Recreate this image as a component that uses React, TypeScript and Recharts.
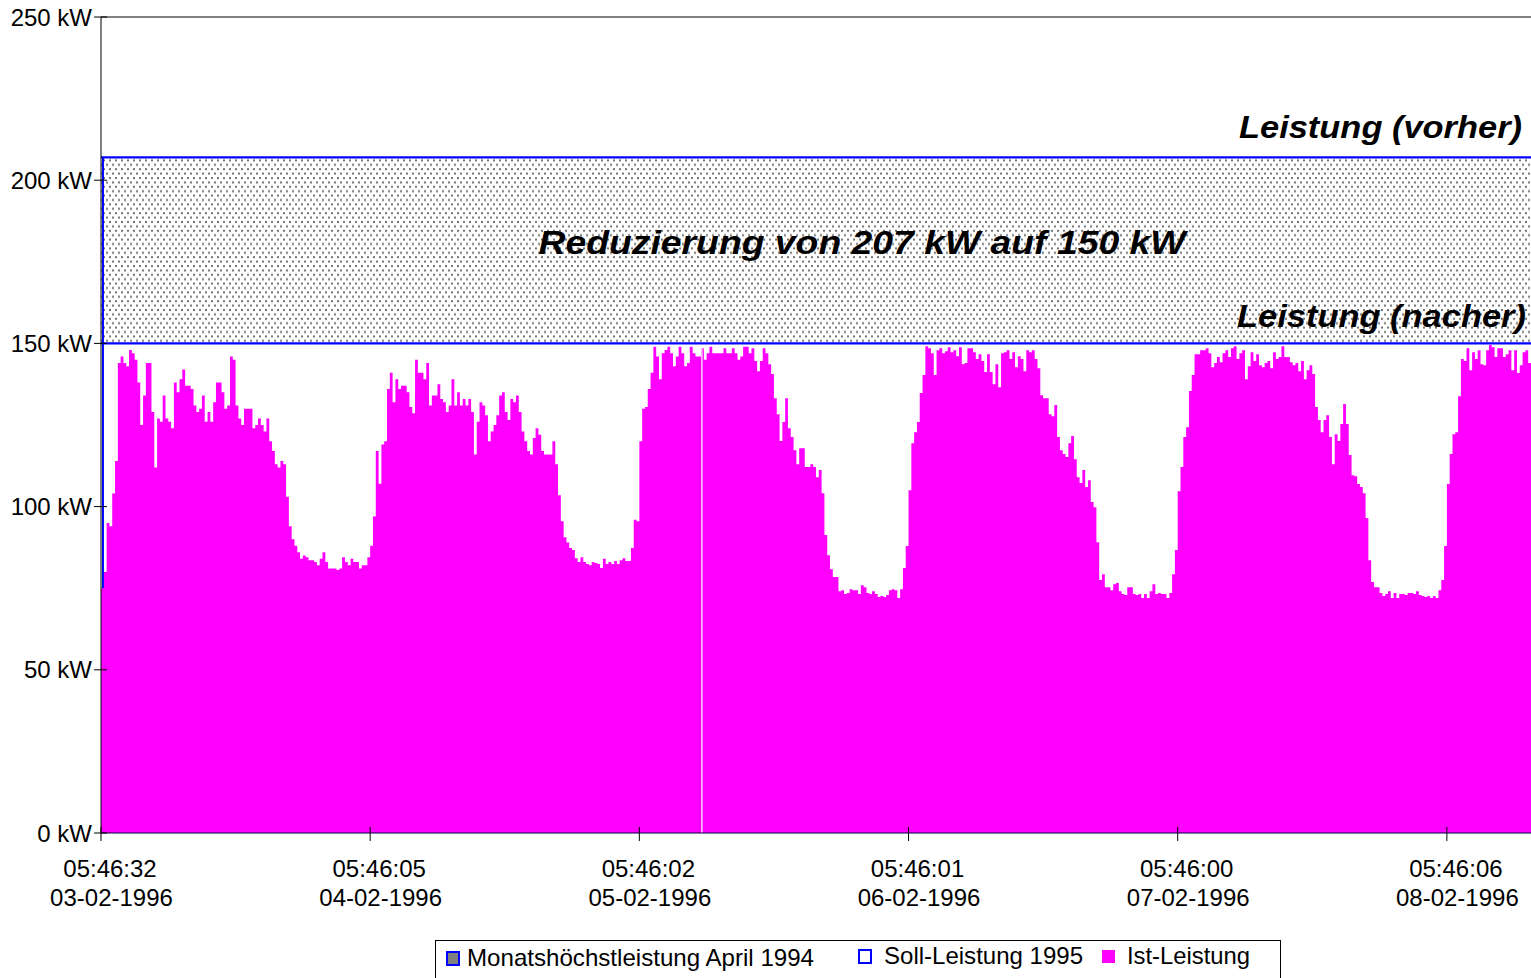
import { ComposedChart, Area, XAxis, YAxis, ReferenceLine } from "recharts"

const FONT = "'Liberation Sans', Arial, Helvetica, sans-serif"
const BLUE = "#0000ff"
const MAGENTA = "#ff00ff"

// 15-minute load readings (kW), one array per day starting 05:46
const DAY_1 = [
  75, 80, 95, 94, 104, 114, 144, 146, 144, 143, 148, 147, 145, 138, 125, 134, 144, 144, 129, 112,
  127, 126, 134, 127, 126, 124, 138, 135, 139, 142, 137, 137, 136, 131, 129, 130, 134, 126, 129, 126,
  132, 138, 138, 135, 130, 131, 146, 145, 131, 127, 125, 130, 130, 130, 124, 125, 127, 125, 123, 127,
  120, 117, 113, 112, 114, 113, 103, 94, 90, 88, 86, 84, 85, 84.5, 83.6, 83.6, 83, 82, 84, 86,
  83, 81, 81, 81, 80.6, 81, 84.5, 83, 82, 84, 83, 83, 81, 82, 82, 84.5,
]
const DAY_2 = [
  88, 97, 117, 107, 119, 120, 136, 141, 132, 139, 136, 137, 137, 135, 130.5, 128.6, 145, 141, 141, 139,
  144, 131, 134, 134, 137.5, 133, 132, 129, 131, 139, 131, 135, 131, 133, 131, 133, 129, 116, 126, 132,
  131, 128, 120, 123, 125, 128, 134, 135, 129, 126.5, 133, 132, 134, 129, 123, 120, 117, 116,
  121, 124, 122, 117, 116, 116, 116, 120, 113, 103.5, 95.5, 90.6, 89, 87.3, 86.7, 84.2, 83, 84.5, 83, 82.4,
  82, 83, 82.7, 82.4, 81.2, 84, 82.4, 83, 82.4, 83.3, 82.4, 83.6, 84.2, 83.3, 83.3, 87.3, 96, 95.5,
]
const DAY_3 = [
  120, 130, 130.5, 136, 141, 149, 146, 139, 147, 148, 149, 147, 143, 146, 149, 147, 143, 144, 149, 147,
  146, 146, 148.5, 145, 147, 149, 147, 147, 147, 147, 148.5, 147, 147, 148.5, 147, 145, 146, 149, 149, 147,
  148.5, 144.6, 141.5, 144.6, 148.5, 147, 143.6,
  140.6, 133.2, 128.3, 120.1, 125.9, 133.2, 124, 121.3, 117.3, 113, 117.9, 117.9, 112.1, 112.1, 113, 112.1,
  109, 111.2, 104.1, 91.3, 85.1, 80.8, 78.4, 78.4, 74.1, 74.4, 73.2, 73.5, 74.7, 74.4, 74.4, 73.2, 75.9,
  75.3, 73.5, 73.2, 74.1, 73.2, 72.3, 72.6, 72.3, 72.9, 74.4, 74.7, 74.4, 72, 74.7, 81.2, 87.9,
]
const DAY_4 = [
  105, 119.4, 122.8, 125.9, 134.8, 140.3, 149.1, 148.5, 147, 140.3, 147.9, 148.5, 147, 147.6, 148.8, 147.3,
  147.9, 146.1, 148.8, 143.6, 144, 148.5, 148.5, 147.3, 145.2, 146.7, 144.6, 141.2, 146.7, 141.2, 137.5,
  143.6, 136.6, 147, 147.3, 147.9,
  145.2, 147.3, 142.7, 146.1, 145.2, 141.5, 147.9, 147.3, 147.9, 145.2, 142.4, 134.1, 133.2, 133.2, 128.3,
  127.7, 131.1, 121.3, 117.3, 116.1, 115.2, 119.4, 121.6, 114.5, 109, 107.2, 111.2, 106, 108.1, 101.4,
  99.8, 89.1, 77.5, 79.3, 75.3, 75.3, 74.4, 76.2, 76.6, 74.1, 73.2, 72.9, 75.3, 75.3, 73.2, 72.9, 73.2, 72,
  73.2, 72, 74.1, 76.2, 73.2, 73.5, 73.2, 73.2, 72, 73.5, 79.3, 86.7,
]
const DAY_5 = [
  104.7, 112.1, 121.3, 124.3, 135.4, 140.3, 146.7, 146.7, 147.9, 147.9, 148.5, 147, 142.7, 144, 145.8,
  144.2, 147, 147.9, 145.8, 148.5, 149.1, 145.2, 147, 147.9, 139, 143, 147.3,
  144.6, 146.7, 143.3, 142.7, 144, 144.6, 142.4, 147.3, 145.2, 145.8, 149.1, 145.8, 145.8, 144.2, 143.3,
  144, 141.5, 144.6, 139, 141.8, 143.3, 140.6, 130.5, 126.5, 122.8, 126.5, 128, 121.3, 113, 122.2, 120.1,
  125.3, 131.4, 125.3, 115.8, 109.6, 109.3, 106.9, 106, 104.1, 96.5, 83.6, 76.9, 75.3, 75.3, 73.5, 72.6,
  73.2, 74.1, 72, 73.5, 72, 73.2, 73.2, 72.9, 73.5, 73.5, 73.2, 74.1, 72.9, 72.6, 72.3, 72.6, 72, 72.6, 72,
  74.4, 77.5, 87.9,
]
const DAY_6 = [
  106.9, 116.1, 122.2, 122.8, 133.8, 145.2, 144.6, 148.5, 141.8, 147.3, 145.2, 147.9, 143.6, 143.3, 147.9,
  149.5, 148.8, 145.8, 148.5, 148.5, 145.8, 146.7, 147.9, 141.8, 147.9, 140.9, 143.3, 147.3, 147.9, 144,
]

const IST_LEISTUNG = [...DAY_1, ...DAY_2, ...DAY_3, ...DAY_4, ...DAY_5, ...DAY_6]
const MONATSHOECHST = 207
const SOLL_LEISTUNG = 150

const Y_TICKS = [0, 50, 100, 150, 200, 250]
const X_TICKS = [0, 96, 192, 288, 384, 480]
const TIME_LABELS = ["05:46:32", "05:46:05", "05:46:02", "05:46:01", "05:46:00", "05:46:06"]
const DATE_LABELS = ["03-02-1996", "04-02-1996", "05-02-1996", "06-02-1996", "07-02-1996", "08-02-1996"]

// short logging dropout on 05-02
const DROPOUT_AT = 214.3
const DROPOUT_INDEX = 214

const last = IST_LEISTUNG.length - 1
const data = IST_LEISTUNG.map((v, i) => ({ t: i, ist: v, monat: MONATSHOECHST, soll: SOLL_LEISTUNG }))
// closing point so the last interval of the step area gets its width
data.push({ t: IST_LEISTUNG.length, ist: IST_LEISTUNG[last], monat: MONATSHOECHST, soll: SOLL_LEISTUNG })

function XTick(props: any) {
  const { x, y, index } = props
  return (
    <g>
      <line x1={x} x2={x} y1={y - 6} y2={y + 8} stroke="#000" />
      <text x={x + 9} y={y + 44} textAnchor="middle" fontSize={24} fontFamily={FONT} fill="#000">
        {TIME_LABELS[index]}
      </text>
      <text x={x + 10.5} y={y + 73} textAnchor="middle" fontSize={24} fontFamily={FONT} fill="#000">
        {DATE_LABELS[index]}
      </text>
    </g>
  )
}

function YTick(props: any) {
  const { x, y, payload } = props
  return (
    <g>
      <line x1={x - 7} x2={x + 6} y1={y} y2={y} stroke="#000" />
      <text x={x - 9} y={y} dy="0.36em" textAnchor="end" fontSize={24} fontFamily={FONT} fill="#000">
        {`${payload.value} kW`}
      </text>
    </g>
  )
}

export default function App() {
  return (
    <div style={{ position: "absolute", left: 0, top: 0, width: 1531, height: 978, background: "#fff" }}>
      <ComposedChart width={1531} height={978} data={data} margin={{ top: 17, right: 0, bottom: 0, left: 0 }}>
        <defs>
          <pattern id="dots" width={6} height={8.8} patternUnits="userSpaceOnUse">
            <rect width={6} height={8.8} fill="#fff" />
            <rect x={1} y={1} width={2} height={2} fill="#757575" />
            <rect x={4} y={5.4} width={2} height={2} fill="#757575" />
          </pattern>
        </defs>
        <XAxis
          type="number"
          dataKey="t"
          domain={[0, IST_LEISTUNG.length]}
          ticks={X_TICKS}
          interval={0}
          height={145}
          tickSize={0}
          tickMargin={0}
          tickLine={false}
          tick={(p: any) => <XTick {...p} />}
          axisLine={{ stroke: "#000040" }}
        />
        <YAxis
          type="number"
          domain={[0, 250]}
          ticks={Y_TICKS}
          interval={0}
          width={101}
          tickSize={0}
          tickMargin={0}
          tickLine={false}
          tick={(p: any) => <YTick {...p} />}
          axisLine={{ stroke: "#000" }}
        />
        <Area
          dataKey="monat"
          type="linear"
          fill="url(#dots)"
          fillOpacity={1}
          stroke={BLUE}
          strokeWidth={2.2}
          dot={false}
          activeDot={false}
          isAnimationActive={false}
        />
        <Area
          dataKey="soll"
          type="linear"
          fill="#fff"
          fillOpacity={1}
          stroke={BLUE}
          strokeWidth={2.2}
          dot={false}
          activeDot={false}
          isAnimationActive={false}
        />
        <Area
          dataKey="ist"
          type="stepAfter"
          fill={MAGENTA}
          fillOpacity={1}
          stroke="none"
          dot={false}
          activeDot={false}
          isAnimationActive={false}
        />
        <ReferenceLine y={250} stroke="#000" />
        <ReferenceLine
          segment={[
            { x: 0.7, y: IST_LEISTUNG[0] },
            { x: 0.7, y: MONATSHOECHST },
          ]}
          stroke={BLUE}
          strokeWidth={2}
        />
        <ReferenceLine
          segment={[
            { x: DROPOUT_AT, y: 0 },
            { x: DROPOUT_AT, y: IST_LEISTUNG[DROPOUT_INDEX] },
          ]}
          stroke="#fff"
          strokeWidth={1.2}
        />
      </ComposedChart>

      <svg
        width={1531}
        height={978}
        style={{ position: "absolute", left: 0, top: 0, pointerEvents: "none" }}
        fontFamily={FONT}
      >
        <text
          x={862}
          y={254}
          textAnchor="middle"
          fontSize={34}
          fontWeight="bold"
          fontStyle="italic"
          textLength={647}
          lengthAdjust="spacingAndGlyphs"
        >
          Reduzierung von 207 kW auf 150 kW
        </text>
        <text x={1239} y={138} fontSize={32} fontWeight="bold" fontStyle="italic" textLength={283} lengthAdjust="spacingAndGlyphs">
          Leistung (vorher)
        </text>
        <text x={1237} y={327} fontSize={32} fontWeight="bold" fontStyle="italic" textLength={289} lengthAdjust="spacingAndGlyphs">
          Leistung (nacher)
        </text>

        <rect x={435.5} y={940.5} width={845} height={60} fill="#fff" stroke="#000" />
        <rect x={447} y={952} width={12} height={13} fill="#808080" stroke={BLUE} strokeWidth={2} />
        <text x={467} y={966} fontSize={24} textLength={347} lengthAdjust="spacingAndGlyphs">
          Monatshöchstleistung April 1994
        </text>
        <rect x={859} y={950} width={12} height={13} fill="#fff" stroke={BLUE} strokeWidth={2} />
        <text x={884} y={964} fontSize={24} textLength={199} lengthAdjust="spacingAndGlyphs">
          Soll-Leistung 1995
        </text>
        <rect x={1102} y={950} width={13} height={13} fill={MAGENTA} />
        <text x={1127} y={964} fontSize={24} textLength={123} lengthAdjust="spacingAndGlyphs">
          Ist-Leistung
        </text>
      </svg>
    </div>
  )
}
